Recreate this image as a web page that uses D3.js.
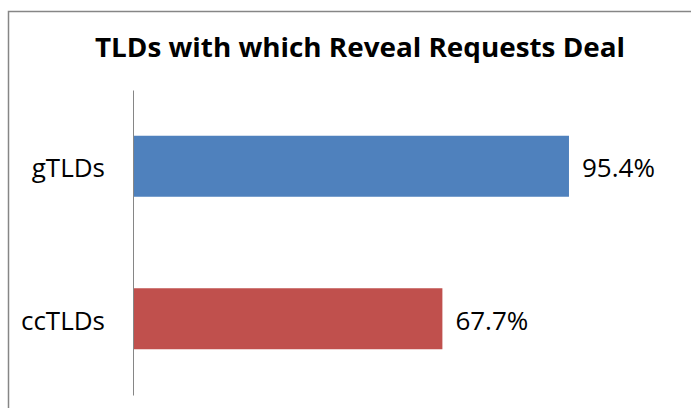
<!DOCTYPE html>
<html>
<head>
<meta charset="utf-8">
<script src="https://cdn.jsdelivr.net/npm/d3@7"></script>
<style>
  body { margin: 0; background: #fff; }
  svg text { font-family: "Open Sans", Lato, sans-serif; fill: #000; }
</style>
</head>
<body>
<div id="chart"></div>
<script>
// chart data
const categories = ["gTLDs", "ccTLDs"]
const values = [95.4, 67.7]
const colors = ["#4F81BD", "#C0504D"]
const title = "TLDs with which Reveal Requests Deal"

const width = 691, height = 408

const svg = d3.select("#chart").append("svg")
    .attr("width", width)
    .attr("height", height)

// chart area border (runs off the right/bottom edge like the picture)
svg.append("rect")
    .attr("x", 8.5)
    .attr("y", 11.5)
    .attr("width", 720)
    .attr("height", 420)
    .attr("fill", "#fff")
    .attr("stroke", "#868686")
    .attr("stroke-width", 1.5)

svg.append("text")
    .attr("x", 360)
    .attr("y", 57)
    .attr("text-anchor", "middle")
    .attr("font-weight", "bold")
    .attr("font-size", 27)
    .attr("textLength", 530)
    .attr("lengthAdjust", "spacingAndGlyphs")
    .text(title)

const xScale = d3.scaleLinear()
    .domain([0, 100])
    .range([133, 590])

const yScale = d3.scaleBand()
    .domain(categories)
    .range([90, 395])
    .paddingInner(0.6)
    .paddingOuter(0.3)

// bars
svg.selectAll("rect.bar")
    .data(categories)
    .enter()
    .append("rect")
    .attr("class", "bar")
    .attr("x", xScale(0))
    .attr("y", d => yScale(d))
    .attr("width", (d, i) => xScale(values[i]) - xScale(0))
    .attr("height", yScale.bandwidth())
    .attr("fill", (d, i) => colors[i])

// value labels
svg.selectAll("text.val")
    .data(categories)
    .enter()
    .append("text")
    .attr("class", "val")
    .attr("x", (d, i) => xScale(values[i]) + 13)
    .attr("y", d => yScale(d) + yScale.bandwidth() / 2 + 11)
    .attr("font-size", 26)
    .text((d, i) => values[i].toFixed(1) + "%")

// category axis
const yAxis = svg.append("g")
    .attr("transform", `translate(${xScale(0)},0)`)
    .call(d3.axisLeft(yScale).tickSize(0).tickPadding(28))
yAxis.select(".domain").attr("stroke", "#868686").attr("stroke-width", 1)
yAxis.selectAll("text")
    .attr("font-size", 26)
    .attr("fill", "#000")
    .attr("dy", null)
    .attr("y", 11)
    .style("font-family", "'Open Sans', Lato, sans-serif")
</script>
</body>
</html>
